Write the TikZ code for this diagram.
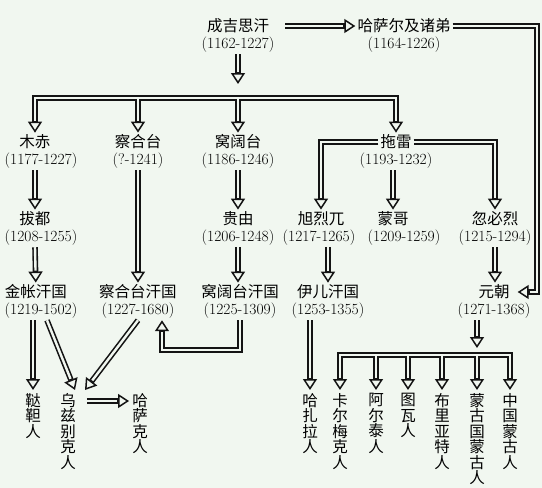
\documentclass[tikz,border=0pt]{standalone}
\usepackage{fontspec}
\newfontfamily\cjk{Noto Sans CJK SC}
\usepackage{xcolor}
\usetikzlibrary{arrows.meta}
\usetikzlibrary{positioning}
\definecolor{paper}{RGB}{241,247,240}
\definecolor{ink}{RGB}{20,20,20}

\begin{document}
\begin{tikzpicture}[x=1pt, y=-1pt, node distance=0pt,
	ruler/.style={font=\cjk\fontsize{15.5}{18}\selectfont, inner sep=2pt},
	years/.style={font=\fontsize{15.5}{18}\selectfont, inner sep=1.5pt},
	folk/.style={font=\cjk\fontsize{15.5}{15.5}\selectfont, align=center, anchor=north, inner sep=3pt},
	dbl/.style={draw=ink, double=paper, double distance=2.4pt, line width=1.6pt},
	arr/.style={draw=ink, line width=5.6pt,
		-{Triangle[open, length=11pt, width=14pt, line width=1.5pt]},
		postaction={draw=paper, line width=2.4pt, -, shorten >=12pt}},
]
\fill [paper] (0,0) rectangle (542,488);
\useasboundingbox (0,0) rectangle (542,488);
%
\node [ruler] (Gen) at (238,26) {成吉思汗};
\node [years] (GenD) [below=of Gen] {(1162-1227)};
\node [ruler] (Has) at (404,26) {哈萨尔及诸弟};
\node [years] (HasD) [below=of Has] {(1164-1226)};
%
\node [ruler] (Joc) at (35,142) {木赤};
\node [years] (JocD) [below=of Joc, xshift=6pt] {(1177-1227)};
\node [ruler] (Cha) at (138,142) {察合台};
\node [years] (ChaD) [below=of Cha] {(?-1241)};
\node [ruler] (Oge) at (238,142) {窝阔台};
\node [years] (OgeD) [below=of Oge] {(1186-1246)};
\node [ruler] (Tol) at (396,142) {拖雷};
\node [years] (TolD) [below=of Tol] {(1193-1232)};
%
\node [ruler] (Bat) at (35,219) {拔都};
\node [years] (BatD) [below=of Bat, xshift=6pt] {(1208-1255)};
\node [ruler] (Guy) at (238,219) {贵由};
\node [years] (GuyD) [below=of Guy] {(1206-1248)};
\node [ruler] (Hul) at (321,219) {旭烈兀};
\node [years] (HulD) [below=of Hul, xshift=-2pt] {(1217-1265)};
\node [ruler] (Mon) at (393,219) {蒙哥};
\node [years] (MonD) [below=of Mon, xshift=11pt] {(1209-1259)};
\node [ruler] (Kub) at (495,219) {忽必烈};
\node [years] (KubD) [below=of Kub] {(1215-1294)};
%
\node [ruler] (Gol) at (36,292) {金帐汗国};
\node [years] (GolD) [below=of Gol, xshift=5pt] {(1219-1502)};
\node [ruler] (Chk) at (138,292) {察合台汗国};
\node [years] (ChkD) [below=of Chk] {(1227-1680)};
\node [ruler] (Ogk) at (240,292) {窝阔台汗国};
\node [years] (OgkD) [below=of Ogk] {(1225-1309)};
\node [ruler] (Ilk) at (328,292) {伊儿汗国};
\node [years] (IlkD) [below=of Ilk] {(1253-1355)};
\node [ruler] (Yua) at (494,292) {元朝};
\node [years] (YuaD) [below=of Yua] {(1271-1368)};
%
\node [folk] (Tat) at (33,390)  {鞑\\靼\\人};
\node [folk] (Uzb) at (68,390)  {乌\\兹\\别\\克\\人};
\node [folk] (Kaz) at (140,390) {哈\\萨\\克\\人};
\node [folk] (Haz) at (310,390) {哈\\扎\\拉\\人};
\node [folk] (Kal) at (340,390) {卡\\尔\\梅\\克\\人};
\node [folk] (Alt) at (376,390) {阿\\尔\\泰\\人};
\node [folk] (Tuv) at (408,390) {图\\瓦\\人};
\node [folk] (Bur) at (442,390) {布\\里\\亚\\特\\人};
\node [folk] (Mgl) at (477,390) {蒙\\古\\国\\蒙\\古\\人};
\node [folk] (Chn) at (510,390) {中\\国\\蒙\\古\\人};
%
\coordinate (SA) at (0,84);
\coordinate (SB) at (0,98);
\coordinate (SE) at (0,112);
\coordinate (PA) at (0,348);
\coordinate (PB) at (0,355);
\coordinate (PE) at (0,368);
\coordinate (Rim) at (537,150);
%
\draw [arr] ([xshift=14pt]Gen.east) -- (Has.west);
\draw [arr] (Has.east) -| (Rim) |- ([xshift=6pt]Yua.east);
\draw [arr] (GenD.south) -- (GenD.south |- SA);
\draw [dbl] (Joc |- SE) |- (Tol |- SB) -- (Tol |- SE)
	(Cha |- SB) -- (Cha |- SE) (Oge |- SB) -- (Oge |- SE);
\draw [arr] (Joc |- SE) -- (Joc);
\draw [arr] (Cha |- SE) -- (Cha);
\draw [arr] (Oge |- SE) -- (Oge);
\draw [arr] (Tol |- SE) -- (Tol);
%
\draw [arr] (JocD.south -| Joc) -- (Bat);
\draw [arr] (BatD.south -| Bat) -- (Gol);
\draw [arr] (ChaD) -- (Chk);
\draw [arr] (OgeD) -- (Guy);
\draw [arr] (GuyD.south) -- (GuyD.south |- Ogk.north);
\draw [arr] (Tol.west) -| (Hul);
\draw [arr] (Tol.east) -| (Kub);
\draw [arr] (TolD.south -| Mon) -- (Mon);
\draw [arr] (HulD.south -| Ilk) -- (Ilk);
\draw [arr] (KubD.south) -- (KubD.south |- Yua.north);
%
\draw [arr] (GolD.south -| Tat) -- (Tat);
\draw [arr] ([xshift=6pt]GolD.south) -- ([xshift=7pt]Uzb.north);
\draw [arr] (ChkD.south) -- ([xshift=17pt]Uzb.north);
\draw [arr] ([xshift=8pt, yshift=-11pt]Uzb.north east) -- ([yshift=-11pt]Kaz.north west);
\draw [arr] (OgkD.south) -- ++(0,30) -| ([xshift=24pt]ChkD.south);
\draw [arr] (IlkD.south -| Haz) -- (Haz);
%
\draw [arr] (YuaD.south -| Mgl) -- (Mgl |- PA);
\draw [dbl] (Kal |- PE) |- (Chn |- PB) -- (Chn |- PE)
	(Alt |- PB) -- (Alt |- PE) (Tuv |- PB) -- (Tuv |- PE)
	(Bur |- PB) -- (Bur |- PE) (Mgl |- PB) -- (Mgl |- PE);
\draw [arr] (Kal |- PE) -- (Kal);
\draw [arr] (Alt |- PE) -- (Alt);
\draw [arr] (Tuv |- PE) -- (Tuv);
\draw [arr] (Bur |- PE) -- (Bur);
\draw [arr] (Mgl |- PE) -- (Mgl);
\draw [arr] (Chn |- PE) -- (Chn);
\end{tikzpicture}
\end{document}
